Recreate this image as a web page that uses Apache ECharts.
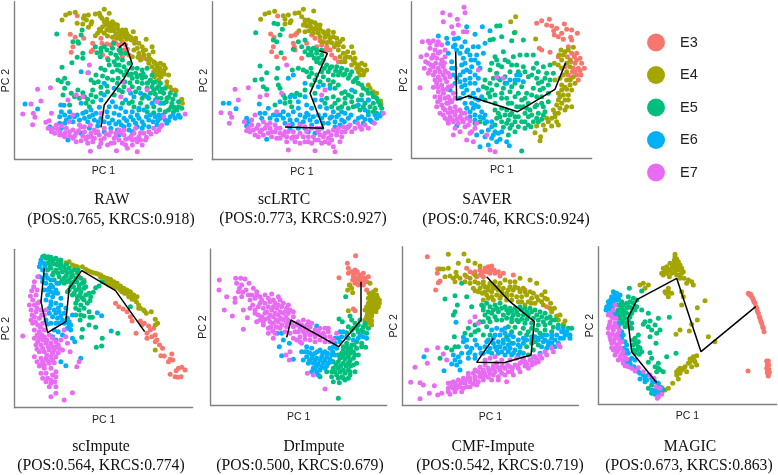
<!DOCTYPE html>
<html><head><meta charset="utf-8">
<style>html,body{margin:0;padding:0;background:#fff}#c{width:778px;height:475px}</style>
<script src="https://cdn.jsdelivr.net/npm/echarts@6/dist/echarts.min.js"></script>
</head><body><div id="c"></div>
<script>
const stages=['E3','E4','E5','E6','E7'];
const colors=['#F8766D','#A3A500','#00BF7D','#00B0F6','#E76BF3'];
const methods=['RAW','scLRTC','SAVER','scImpute','DrImpute','CMF-Impute','MAGIC'];
const scores=['(POS:0.765, KRCS:0.918)','(POS:0.773, KRCS:0.927)','(POS:0.746, KRCS:0.924)','(POS:0.564, KRCS:0.774)','(POS:0.500, KRCS:0.679)','(POS:0.542, KRCS:0.719)','(POS:0.673, KRCS:0.863)'];

const rawE3=[[228,47],[207,103],[222,112],[215,140],[210,157],[248,115],[275,130],[300,115],[303,130],[275,150],[270,155],[305,165],[318,132],[330,135],[345,130],[355,135],[340,125],[365,125],[375,135],[380,148],[395,118],[405,120],[368,150],[385,165],[418,170],[430,175],[525,270],[365,170],[320,175]];
const rawE4=[[182,60],[193,45],[205,40],[222,37],[228,70],[247,55],[250,47],[262,45],[256,60],[272,65],[270,72],[245,72],[262,82],[283,42],[295,40],[310,28],[298,48],[303,55],[325,40],[310,65],[320,68],[330,70],[342,72],[315,75],[325,80],[335,82],[350,85],[305,80],[318,90],[328,92],[340,92],[355,95],[365,90],[378,100],[345,103],[358,108],[372,110],[385,108],[398,95],[405,115],[392,120],[415,130],[360,118],[335,112],[320,108],[310,100],[290,100],[283,107],[378,118],[437,118],[455,140],[458,155],[425,140],[430,165],[415,160],[400,150],[440,178],[420,180],[395,170],[445,190],[460,185],[470,195],[480,190],[490,195],[455,200],[465,210],[475,215],[490,212],[470,225],[460,215],[482,230],[475,240],[505,225],[500,258],[510,262],[515,270],[528,272],[545,298],[547,310],[495,205],[335,65],[350,75],[362,100],[375,90],[390,112],[402,130],[410,145],[428,152],[445,165],[435,150],[412,172],[450,178],[465,190],[478,205],[483,220],[462,230],[470,205],[492,222],[500,245],[300,92],[295,88],[348,115],[368,100],[318,58]];
const rawE5=[[166,102],[215,125],[230,125],[240,105],[243,90],[232,130],[245,160],[212,188],[228,172],[245,175],[182,202],[300,145],[283,140],[288,158],[300,155],[298,170],[318,150],[330,160],[345,165],[360,160],[350,175],[365,180],[340,185],[325,195],[355,195],[370,200],[385,190],[395,205],[410,205],[425,210],[440,205],[455,225],[405,220],[420,225],[435,230],[450,240],[465,245],[480,250],[495,265],[510,280],[525,285],[535,305],[545,325],[530,330],[515,310],[500,295],[490,280],[470,265],[455,260],[440,265],[425,250],[410,245],[395,235],[385,225],[370,225],[350,210],[335,215],[320,235],[300,205],[305,228],[285,225],[270,240],[280,248],[292,245],[190,235],[180,245],[170,240],[200,250],[190,265],[210,280],[220,290],[235,295],[250,290],[270,285],[285,290],[300,280],[320,275],[340,285],[355,270],[370,260],[395,260],[415,265],[432,285],[450,280],[470,295],[490,310],[505,330],[520,335],[478,330],[460,320],[440,320],[420,310],[400,320],[385,310],[365,310],[255,310],[265,320],[275,305],[205,315],[185,285],[310,140],[335,145],[322,180],[312,210],[345,195],[360,215],[378,212],[392,222],[410,230],[428,222],[442,248],[458,248],[475,258],[485,268],[505,292],[518,298],[535,320],[522,322],[512,322],[498,305],[482,295],[465,282],[445,295],[425,295],[405,275],[388,248],[372,245],[352,235],[335,240],[318,258],[300,262],[275,270],[260,298],[245,278],[230,270],[495,335],[460,338],[440,335],[415,330],[395,305],[425,235],[440,250],[460,270],[480,275],[350,250],[365,275],[338,130],[358,148],[375,160],[355,150]];
const rawE6=[[70,312],[108,327],[178,315],[188,316],[240,215],[262,218],[180,335],[175,350],[190,345],[205,335],[220,350],[240,310],[255,335],[270,330],[285,340],[300,300],[310,285],[325,320],[340,340],[355,345],[375,300],[400,290],[420,280],[440,290],[430,330],[410,345],[390,350],[370,355],[355,365],[335,360],[320,350],[300,355],[280,360],[265,350],[250,355],[235,360],[215,365],[195,360],[175,370],[145,380],[180,385],[200,420],[240,400],[265,385],[290,378],[310,395],[330,385],[350,390],[370,380],[385,375],[405,370],[425,365],[445,360],[465,350],[480,355],[495,360],[510,350],[525,355],[500,370],[470,375],[445,380],[425,385],[395,395],[355,405],[450,345],[340,265],[310,250],[480,310],[465,300],[190,370],[205,352],[228,345],[245,340],[260,365],[275,345],[292,365],[310,365],[325,370],[345,372],[362,375],[378,362],[398,360],[415,355],[438,350],[458,365],[472,362],[488,345],[505,362],[518,345],[535,345],[540,352],[318,335],[295,322],[345,320],[375,335],[395,335],[415,325],[360,325],[335,305],[390,280],[455,310],[475,345],[410,380],[385,390],[430,375]];
const rawE7=[[108,268],[147,263],[118,303],[63,342],[88,312],[95,340],[100,352],[93,374],[265,195],[260,218],[150,340],[143,362],[133,367],[140,385],[150,395],[165,375],[175,395],[185,405],[195,385],[205,395],[215,390],[225,400],[240,380],[250,395],[260,410],[270,400],[280,415],[295,405],[310,415],[325,405],[340,415],[355,420],[370,405],[385,415],[400,400],[415,410],[430,400],[445,395],[460,385],[475,390],[485,375],[410,425],[425,435],[410,455],[380,445],[347,452],[268,454],[300,430],[320,435],[260,430],[240,422],[215,415],[190,410],[175,405],[150,390],[290,395],[330,430],[365,430],[395,435],[405,385],[370,390],[345,400],[280,390],[235,375],[215,345],[200,300],[225,285],[245,290],[365,245],[385,270],[440,270],[470,305],[555,342],[490,350],[360,290],[300,340],[205,365],[155,385],[168,388],[180,378],[192,398],[205,408],[220,408],[232,392],[245,408],[255,418],[272,412],[285,398],[300,420],[315,402],[330,395],[345,410],[360,398],[375,418],[392,408],[405,418],[420,398],[438,412],[452,402],[468,395],[480,380],[160,400],[225,425],[250,380],[275,425],[295,440],[340,428],[375,435],[395,420],[435,420],[420,420],[355,390],[310,385],[268,375]];
const rawPath=[[355,143],[373,128],[395,192],[370,235],[340,275],[310,315],[300,382]];

const lrtcE3=[[218,48],[197,102],[207,112],[205,140],[200,155],[215,170],[238,175],[258,108],[270,105],[275,100],[265,130],[268,140],[270,150],[305,130],[320,105],[330,115],[345,122],[355,125],[365,140],[375,150],[380,165],[390,175],[400,185],[350,135],[362,150],[290,175],[510,282],[335,140]];
const lrtcE4=[[167,58],[180,42],[192,38],[209,34],[235,47],[240,58],[250,45],[270,40],[282,38],[290,50],[295,28],[326,33],[255,68],[258,62],[240,72],[300,60],[310,60],[320,65],[330,68],[295,75],[305,78],[318,80],[332,85],[345,88],[300,95],[312,92],[325,100],[340,100],[355,95],[370,92],[385,97],[345,110],[360,112],[375,115],[350,125],[365,128],[380,128],[395,115],[413,118],[388,140],[400,150],[415,140],[440,140],[445,158],[415,160],[425,170],[435,172],[405,170],[450,190],[460,195],[470,190],[440,195],[455,205],[470,210],[485,210],[460,215],[475,225],[490,255],[495,265],[505,275],[515,280],[527,303],[528,312],[410,185],[420,185],[400,135],[282,92],[315,70],[335,75],[345,75],[358,100],[370,105],[385,110],[395,130],[405,125],[428,155],[420,175],[445,180],[462,205],[478,215],[300,70],[325,88],[338,92],[480,195],[465,225],[450,175],[372,125]];
const lrtcE5=[[152,98],[207,70],[218,72],[232,88],[225,105],[205,120],[215,125],[228,158],[165,198],[185,218],[218,205],[262,210],[300,120],[280,125],[265,148],[310,145],[325,145],[335,160],[300,155],[320,165],[340,175],[355,180],[365,195],[380,200],[395,200],[410,205],[425,210],[440,215],[455,235],[335,185],[305,215],[320,220],[335,225],[350,215],[370,215],[385,225],[400,225],[415,225],[430,235],[445,245],[460,250],[475,265],[490,280],[505,290],[520,305],[530,325],[510,325],[495,320],[480,310],[460,300],[440,290],[420,275],[400,255],[385,245],[370,240],[150,240],[170,238],[175,260],[185,268],[215,235],[220,255],[225,265],[240,295],[260,285],[285,285],[300,270],[330,280],[365,295],[385,290],[400,300],[420,310],[445,320],[465,330],[490,335],[515,340],[400,325],[380,320],[360,310],[240,310],[260,320],[210,315],[280,205],[295,210],[290,140],[350,165],[310,165],[328,175],[345,190],[318,205],[358,205],[375,205],[392,212],[405,215],[420,222],[435,225],[450,240],[470,255],[485,270],[500,280],[515,295],[525,315],[505,310],[490,300],[470,285],[450,275],[430,285],[410,280],[390,265],[375,255],[355,230],[330,240],[312,230],[320,255],[345,245],[275,280],[255,305],[235,285],[420,295],[440,305],[455,318],[475,320],[505,335],[430,325],[410,320],[390,310],[350,150],[335,150],[318,155]];
const lrtcE6=[[55,310],[72,310],[93,326],[163,312],[250,235],[265,225],[225,305],[255,290],[270,290],[190,325],[180,340],[195,355],[235,335],[250,345],[265,335],[285,345],[305,340],[320,325],[340,260],[355,255],[375,265],[350,300],[440,270],[470,300],[490,300],[420,340],[400,345],[380,350],[360,345],[125,355],[130,365],[165,340],[215,360],[235,355],[255,360],[275,360],[295,365],[315,360],[335,365],[350,355],[370,370],[390,365],[410,360],[430,355],[450,365],[470,350],[490,345],[510,345],[530,340],[500,365],[475,370],[255,385],[280,385],[310,395],[330,400],[185,418],[125,378],[280,305],[300,290],[430,380],[390,380],[300,250],[170,355],[205,345],[225,345],[240,370],[262,372],[285,372],[300,352],[325,350],[340,345],[355,370],[375,355],[395,350],[418,365],[438,345],[460,355],[480,358],[515,355],[525,348],[345,320],[330,300],[305,315],[365,325],[385,335],[410,335],[280,325],[300,385],[320,375],[350,385],[405,375],[460,315],[480,330],[495,360],[310,345],[215,345]];
const lrtcE7=[[90,268],[130,263],[100,300],[48,338],[75,340],[80,352],[73,370],[118,365],[245,195],[185,285],[165,290],[150,345],[140,360],[130,385],[125,392],[145,390],[160,375],[175,365],[195,370],[150,405],[165,395],[180,385],[195,385],[210,375],[225,385],[240,395],[210,395],[225,400],[245,410],[265,395],[285,400],[300,380],[320,385],[340,395],[355,410],[370,395],[385,390],[400,385],[415,380],[435,375],[450,385],[465,380],[480,375],[490,385],[508,370],[535,340],[175,405],[200,410],[190,400],[225,415],[250,450],[270,425],[285,430],[310,425],[330,452],[350,430],[370,415],[395,405],[420,395],[405,425],[390,455],[385,440],[360,425],[265,410],[310,410],[330,420],[345,385],[215,335],[230,280],[350,285],[360,270],[140,375],[155,385],[170,390],[185,375],[200,395],[215,385],[235,405],[250,395],[260,415],[275,410],[295,410],[305,395],[325,410],[335,385],[345,405],[360,400],[378,405],[395,395],[410,395],[425,385],[440,395],[458,370],[470,388],[215,415],[245,425],[300,425],[320,430],[340,420],[372,430],[380,420],[410,410],[160,410],[135,395],[285,375],[250,375]];
const lrtcPath=[[343,152],[367,160],[315,280],[355,385],[240,381]];

const saverE3=[[425,70],[440,62],[463,58],[455,75],[470,78],[508,72],[476,92],[490,110],[500,100],[478,105],[515,88],[530,90],[547,100],[527,112],[505,118],[433,145],[440,150],[465,157],[520,140],[545,160],[555,175],[540,190],[550,205],[568,205],[558,225],[545,225],[532,215],[528,235],[520,225],[550,240],[538,170],[530,160],[517,170],[510,200],[490,170],[535,205],[545,180],[560,190],[540,215],[555,212],[528,185],[485,85],[530,120]];
const saverE4=[[347,65],[362,50],[422,117],[360,97],[498,150],[510,155],[520,150],[535,142],[492,165],[478,190],[490,195],[500,205],[515,190],[525,180],[505,225],[495,235],[515,240],[525,255],[510,262],[500,270],[490,280],[505,285],[520,285],[530,270],[490,300],[500,310],[485,315],[515,320],[530,320],[475,330],[490,340],[480,350],[470,355],[460,365],[470,378],[490,375],[445,375],[425,378],[420,398],[437,410],[435,422],[455,355],[520,300],[480,240],[540,250],[505,165],[525,200],[515,215],[500,255],[515,268],[525,240],[495,290],[510,300],[495,325],[510,330],[485,365],[450,390],[535,230],[500,180],[480,340]];
const saverE5=[[315,77],[305,78],[285,120],[295,118],[320,110],[350,122],[385,120],[358,98],[325,155],[300,170],[290,190],[305,180],[320,200],[340,185],[355,170],[375,165],[395,165],[415,165],[425,190],[445,200],[465,195],[430,215],[415,205],[400,230],[385,200],[365,195],[345,215],[330,230],[305,220],[285,210],[270,240],[285,250],[265,260],[290,270],[305,255],[325,265],[345,275],[360,250],[380,260],[395,280],[415,265],[430,250],[450,235],[465,240],[445,265],[425,290],[440,310],[420,320],[400,310],[380,300],[360,290],[340,310],[320,295],[300,310],[285,290],[270,300],[310,340],[330,345],[350,340],[370,350],[390,340],[410,345],[430,340],[450,335],[415,365],[400,375],[380,365],[360,365],[340,360],[320,365],[305,355],[345,385],[360,395],[340,405],[390,385],[408,380],[380,453],[430,365],[270,370],[255,365],[240,370],[440,290],[460,280],[395,325],[375,320],[445,345],[300,375],[325,382],[310,195],[330,180],[350,195],[370,215],[390,215],[410,225],[425,235],[440,245],[455,220],[475,220],[460,255],[435,270],[410,285],[390,295],[370,280],[350,260],[330,250],[315,240],[295,235],[275,265],[280,280],[300,285],[320,280],[335,295],[350,310],[365,320],[385,320],[405,330],[425,315],[445,320],[460,305],[320,325],[335,330],[300,330],[315,350],[335,370],[350,375],[370,380],[390,365],[400,350],[425,355],[440,358],[360,350],[345,345]];
const saverE6=[[130,108],[155,115],[158,130],[178,117],[210,125],[215,80],[240,103],[262,80],[285,92],[218,150],[235,140],[270,130],[160,160],[170,185],[195,160],[205,175],[225,165],[240,180],[200,195],[215,210],[230,200],[195,225],[210,240],[225,235],[240,250],[200,260],[215,270],[235,280],[250,270],[195,295],[210,310],[230,310],[250,300],[225,335],[240,345],[260,335],[265,355],[185,378],[245,405],[260,395],[280,390],[300,395],[290,415],[305,425],[335,425],[343,437],[315,418],[280,435],[255,440],[370,240],[375,225],[385,245],[345,240],[310,235],[255,205],[250,235],[180,250],[175,225],[165,270],[290,365],[175,140],[185,150],[200,140],[215,155],[228,180],[245,165],[210,190],[225,215],[240,225],[205,215],[225,250],[210,255],[195,245],[205,280],[225,290],[240,295],[260,290],[215,325],[235,325],[250,320],[270,345],[255,350],[240,360],[275,365],[290,380],[310,400],[270,410],[295,405],[320,395],[180,205],[185,235],[170,205],[180,135],[190,115],[250,140],[265,160],[250,190],[365,225],[360,240],[335,250],[240,315],[225,350]];
const saverE7=[[143,38],[207,22],[210,38],[165,45],[187,58],[145,65],[190,75],[170,80],[175,100],[205,95],[215,95],[82,125],[100,123],[115,122],[130,125],[140,135],[105,145],[120,150],[135,155],[150,150],[78,170],[95,165],[110,175],[125,175],[140,180],[88,205],[100,190],[115,200],[130,205],[145,200],[100,220],[115,225],[130,230],[145,225],[160,220],[75,263],[125,250],[140,255],[155,245],[130,275],[145,280],[160,290],[175,280],[125,320],[140,315],[155,310],[170,305],[135,340],[150,330],[165,325],[180,320],[195,330],[150,355],[165,350],[180,345],[195,350],[210,340],[160,370],[175,365],[190,370],[205,365],[220,375],[175,405],[195,395],[215,420],[235,425],[225,400],[240,385],[285,450],[300,455],[275,405],[305,230],[325,235],[250,210],[165,230],[135,290],[160,260],[120,290],[105,130],[125,135],[115,165],[130,160],[92,185],[108,195],[122,190],[137,192],[150,170],[148,188],[105,210],[120,215],[135,215],[150,212],[120,240],[135,240],[150,235],[115,262],[128,262],[143,268],[155,268],[170,258],[135,300],[150,295],[165,300],[180,295],[128,305],[145,325],[160,338],[172,335],[185,332],[200,340],[158,360],[170,358],[185,358],[200,358],[215,355],[225,362],[210,380],[230,395],[245,370],[180,385],[145,345],[160,310]];
const saverPath=[[182,155],[185,300],[220,288],[368,335],[480,268],[512,188]];

const scimE3=[[235,110],[250,120],[345,190],[355,200],[368,207],[380,215],[390,230],[395,243],[420,243],[432,250],[445,258],[407,280],[440,280],[450,270],[460,265],[440,295],[455,290],[465,285],[470,300],[478,315],[465,305],[487,325],[482,347],[492,348],[515,342],[510,358],[518,360],[505,365],[535,385],[545,382],[555,390],[528,392],[510,403],[525,410],[533,412],[543,410],[425,255]];
const scimE4=[[178,70],[205,65],[215,75],[230,80],[245,80],[255,88],[270,95],[285,100],[300,105],[310,112],[320,115],[330,118],[340,125],[350,130],[360,138],[370,145],[380,150],[390,155],[400,165],[410,170],[315,128],[325,135],[335,138],[345,142],[360,150],[372,160],[385,170],[395,178],[408,185],[415,195],[430,210],[438,220],[453,215],[465,238],[472,250],[465,255],[465,330],[415,205],[195,68],[222,78],[262,92],[278,98],[292,102],[305,110],[318,122],[332,128],[345,132],[355,145],[365,155],[378,160],[390,170],[402,178],[420,205],[432,212],[300,112],[375,150],[395,165]];
const scimE5=[[125,50],[135,55],[150,52],[165,55],[180,60],[140,70],[155,68],[170,75],[190,80],[205,85],[220,90],[150,85],[165,90],[185,95],[200,100],[215,105],[230,100],[240,115],[175,110],[190,115],[205,120],[220,125],[235,135],[250,125],[190,130],[175,130],[210,140],[225,150],[240,155],[250,145],[215,165],[230,170],[245,175],[255,165],[225,190],[240,195],[260,190],[235,210],[250,205],[225,225],[238,240],[265,160],[278,157],[268,182],[285,143],[295,138],[305,125],[250,228],[268,232],[245,268],[265,255],[285,262],[243,292],[305,295],[287,322],[303,318],[352,280],[140,90],[155,105],[160,120],[200,155],[225,205],[275,232],[390,200],[130,48],[142,50],[158,58],[172,62],[147,60],[162,72],[180,72],[198,72],[148,78],[178,85],[195,90],[212,95],[232,90],[158,98],[172,100],[195,108],[210,112],[225,115],[183,122],[198,125],[212,130],[228,125],[245,130],[218,140],[235,145],[255,140],[205,150],[220,160],[238,165],[250,180],[230,180],[270,170],[240,225],[265,215]];
const scimE6=[[120,60],[128,70],[115,80],[125,90],[135,105],[150,120],[135,130],[145,145],[155,140],[165,150],[140,165],[155,170],[170,160],[150,185],[165,190],[180,195],[145,205],[160,210],[175,215],[190,220],[155,230],[170,235],[185,240],[200,235],[215,225],[205,260],[190,250],[150,250],[165,250],[155,290],[185,285],[215,295],[222,305],[180,365],[195,377],[240,355],[290,218],[303,227],[332,273],[168,130],[115,110],[180,175],[210,255],[135,240],[118,70],[132,80],[140,115],[125,115],[150,135],[140,150],[130,150],[160,160],[135,180],[150,195],[172,205],[195,205],[145,220],[165,220],[180,228],[200,248],[175,250],[140,252],[160,270],[172,275],[205,245],[210,270],[150,155],[125,125],[200,265],[165,300]];
const scimE7=[[110,110],[100,125],[92,152],[105,165],[95,180],[85,195],[100,195],[115,185],[90,210],[105,215],[120,210],[100,230],[115,235],[130,225],[95,250],[110,255],[125,250],[65,288],[100,270],[115,275],[130,270],[100,295],[115,295],[130,290],[145,285],[105,315],[120,315],[135,310],[150,310],[165,305],[180,300],[100,350],[115,335],[130,335],[145,330],[160,330],[175,325],[120,355],[135,355],[150,350],[165,350],[115,378],[130,375],[145,370],[160,368],[120,400],[125,415],[135,425],[150,430],[162,425],[165,395],[155,405],[150,470],[165,460],[190,480],[215,458],[228,380],[235,365],[208,335],[200,310],[190,270],[165,440],[120,375],[98,140],[108,150],[88,168],[110,190],[93,225],[108,205],[122,225],[135,210],[90,240],[103,245],[118,262],[108,285],[122,285],[138,300],[110,305],[125,300],[155,295],[172,315],[142,320],[155,320],[125,325],[108,328],[138,345],[155,340],[172,338],[108,365],[125,365],[140,362],[155,360],[130,385],[150,385],[135,400],[165,410],[140,415],[150,420],[145,440],[185,330],[195,290],[165,320]];
const scimPath=[[130,85],[120,185],[140,278],[195,245],[205,145],[243,92],[345,152],[433,275]];

const drE3=[[467,47],[442,70],[445,85],[445,100],[417,113],[465,90],[460,108],[470,100],[480,105],[490,100],[470,115],[480,120],[495,115],[500,125],[450,135],[465,130],[475,135],[490,135],[505,110],[460,207],[465,212],[500,150],[455,95],[462,100],[472,95],[485,112],[458,120],[468,125],[482,128],[492,125],[462,115]];
const drE4=[[443,150],[455,145],[458,158],[448,135],[510,130],[507,160],[520,155],[530,165],[515,170],[505,175],[525,178],[538,180],[510,185],[520,190],[530,195],[500,200],[510,200],[520,205],[530,205],[505,215],[515,220],[500,230],[510,235],[495,240],[505,248],[515,255],[495,210],[445,212],[527,150],[512,165],[522,168],[532,172],[518,178],[528,185],[538,190],[505,190],[515,195],[525,200],[535,200],[508,208],[518,212],[528,215],[502,222],[515,228],[505,240],[515,242],[498,255]];
const drE5=[[437,170],[417,237],[427,245],[450,228],[455,240],[445,260],[460,265],[475,255],[490,260],[505,265],[490,275],[475,275],[460,285],[445,295],[485,310],[497,322],[500,280],[440,310],[455,315],[470,305],[430,330],[445,330],[460,335],[470,325],[415,345],[430,350],[445,350],[460,355],[400,365],[415,365],[430,370],[445,370],[400,385],[415,385],[430,390],[445,390],[465,395],[410,405],[425,410],[435,420],[400,425],[418,428],[360,410],[380,395],[415,475],[470,370],[450,405],[395,410],[440,278],[455,270],[470,265],[485,270],[495,250],[480,240],[465,250],[430,320],[440,320],[452,325],[462,315],[425,340],[438,340],[452,340],[465,345],[420,355],[435,358],[450,362],[408,375],[422,378],[438,378],[452,378],[405,395],[420,395],[435,400],[450,395],[415,415],[430,415],[460,375],[475,345],[485,320],[395,395],[445,415],[395,365]];
const drE6=[[238,320],[245,347],[280,358],[232,280],[245,280],[268,310],[305,335],[320,320],[335,325],[350,258],[330,340],[345,340],[360,330],[375,335],[390,325],[405,310],[420,275],[425,290],[320,350],[335,355],[350,355],[365,350],[380,350],[395,345],[340,370],[355,372],[370,368],[385,370],[345,385],[360,390],[375,385],[335,395],[350,395],[310,360],[405,295],[480,285],[490,290],[460,300],[250,300],[322,335],[338,345],[352,335],[368,340],[382,340],[398,335],[410,325],[420,305],[328,362],[345,362],[360,360],[375,360],[390,358],[405,345],[350,378],[365,380],[380,378],[392,365],[355,405],[340,385],[325,370],[315,335],[400,320],[415,295],[430,275],[475,295],[500,295],[440,290]];
const drE7=[[58,120],[57,150],[107,115],[122,115],[135,117],[110,130],[125,135],[147,130],[115,155],[128,157],[80,170],[105,175],[125,170],[145,165],[160,145],[170,155],[105,187],[150,180],[165,175],[180,170],[195,165],[215,162],[73,210],[97,228],[130,210],[150,205],[165,210],[180,190],[195,190],[210,185],[225,190],[240,180],[142,233],[130,268],[165,220],[185,230],[200,215],[215,210],[230,205],[245,200],[260,205],[170,245],[190,245],[205,235],[220,230],[235,225],[250,220],[265,220],[280,230],[190,255],[205,265],[220,250],[235,245],[250,240],[265,240],[205,280],[220,295],[218,272],[240,265],[260,260],[280,260],[295,245],[310,240],[325,245],[285,275],[300,265],[315,265],[330,260],[345,270],[360,265],[375,265],[385,275],[300,290],[315,285],[330,285],[345,290],[360,285],[375,290],[390,290],[400,300],[270,335],[258,345],[268,360],[305,310],[322,400],[375,447],[340,405],[410,280],[118,145],[138,150],[155,165],[170,165],[185,180],[205,175],[220,180],[235,170],[158,195],[175,200],[190,205],[205,200],[220,200],[235,195],[250,190],[265,195],[175,225],[195,220],[210,225],[225,220],[240,215],[255,215],[270,210],[280,215],[180,240],[195,238],[210,245],[228,240],[242,235],[258,232],[212,260],[228,262],[245,255],[260,250],[275,250],[290,255],[305,255],[320,255],[335,250],[295,275],[310,275],[325,275],[340,280],[355,275],[370,280],[385,265],[315,298],[330,300],[345,305],[360,300],[375,305],[390,305],[230,260],[280,295],[290,300],[300,305],[225,280],[255,275],[270,280]];
const drPath=[[260,292],[273,240],[416,320],[483,240],[483,125]];

const cmfE3=[[97,50],[128,87],[127,100],[135,123],[122,150],[130,128],[215,85],[225,95],[215,110],[255,90],[265,95],[280,80],[290,78],[297,90],[310,95],[325,100],[275,95],[255,105],[245,110],[285,100],[265,110],[355,105],[390,150],[455,200],[235,100],[270,85],[285,88],[300,100],[315,108],[260,100],[240,95]];
const cmfE4=[[135,87],[145,87],[160,43],[207,42],[160,85],[190,70],[220,62],[240,70],[255,78],[150,110],[165,108],[183,97],[175,115],[180,125],[195,115],[210,125],[225,115],[240,125],[235,145],[250,130],[265,125],[255,145],[240,152],[270,140],[285,130],[300,125],[315,130],[330,120],[345,125],[360,125],[375,115],[405,120],[425,130],[280,150],[295,145],[310,150],[325,145],[340,150],[355,150],[370,145],[385,145],[262,160],[275,165],[290,170],[305,165],[320,165],[335,170],[350,165],[365,170],[380,170],[395,165],[410,175],[425,170],[440,165],[450,155],[457,178],[440,185],[420,190],[400,185],[380,185],[265,180],[467,190],[478,205],[470,215],[485,228],[495,225],[510,243],[490,240],[505,253],[445,195],[250,155],[270,155],[290,155],[305,145],[320,155],[335,160],[345,140],[360,140],[375,155],[390,155],[405,155],[415,160],[430,180],[450,175],[465,205],[408,190],[390,195],[370,185],[350,180],[335,180],[315,175],[295,180],[280,175],[265,135],[280,140],[295,135],[310,140],[225,130],[210,105],[185,108],[240,105]];
const cmfE5=[[150,177],[180,167],[215,170],[187,195],[180,215],[175,225],[230,200],[200,130],[260,195],[275,190],[265,210],[285,200],[300,195],[315,190],[330,200],[345,205],[360,205],[375,200],[390,205],[405,205],[420,210],[435,215],[450,220],[465,230],[480,240],[270,225],[290,220],[310,215],[325,225],[340,220],[355,225],[370,225],[385,225],[400,225],[415,235],[430,240],[445,245],[465,250],[265,245],[285,245],[305,240],[350,245],[370,245],[390,250],[240,255],[220,265],[210,280],[228,285],[178,290],[180,320],[170,330],[190,320],[250,270],[265,285],[285,285],[335,290],[350,275],[375,280],[400,275],[425,270],[450,270],[470,275],[520,265],[530,265],[525,285],[390,300],[410,300],[430,315],[415,330],[395,320],[350,310],[155,323],[135,355],[490,255],[400,345],[265,200],[280,215],[295,210],[305,205],[320,205],[335,210],[350,212],[365,215],[380,210],[395,215],[410,215],[425,225],[440,230],[455,235],[470,240],[300,230],[320,240],[335,235],[350,235],[365,240],[380,238],[395,238],[410,250],[430,255],[450,255],[475,262],[280,235],[275,260],[255,245],[240,275],[340,260],[360,262],[385,265],[410,265],[435,280],[395,285],[420,305],[445,285],[505,260],[430,295],[410,310]];
const cmfE6=[[183,247],[205,292],[215,300],[200,340],[175,345],[190,350],[215,320],[230,325],[240,300],[258,340],[270,320],[290,270],[305,265],[320,270],[330,265],[280,300],[295,295],[310,305],[325,300],[340,300],[355,290],[370,300],[385,295],[300,320],[315,320],[330,325],[345,325],[360,330],[375,320],[290,340],[310,340],[330,345],[350,345],[370,345],[385,340],[420,290],[440,290],[455,285],[470,295],[485,285],[500,275],[515,275],[525,295],[450,300],[470,310],[490,310],[505,295],[435,340],[87,350],[147,392],[170,372],[185,375],[195,390],[220,355],[240,355],[240,345],[490,265],[455,325],[205,305],[225,335],[245,315],[265,340],[280,335],[275,305],[300,285],[315,285],[330,280],[345,285],[295,310],[310,320],[325,310],[340,315],[355,310],[370,315],[385,310],[305,330],[320,335],[340,335],[355,340],[375,335],[395,300],[410,290],[430,300],[445,305],[460,305],[480,300],[495,295],[510,285],[520,285],[470,285],[285,325],[255,325],[440,320],[460,315],[480,320],[220,340],[195,365],[180,360],[505,270]];
const cmfE7=[[95,330],[128,323],[145,342],[155,360],[97,370],[60,382],[47,427],[75,428],[85,435],[118,437],[103,460],[75,476],[128,465],[140,460],[165,463],[160,430],[175,425],[190,420],[205,415],[220,410],[235,400],[250,395],[265,390],[280,385],[295,378],[175,445],[195,440],[210,430],[225,425],[240,420],[255,410],[270,405],[285,400],[300,395],[315,390],[330,385],[345,380],[360,375],[375,370],[390,365],[405,360],[420,350],[435,345],[450,335],[470,325],[490,315],[200,455],[225,440],[245,435],[265,420],[310,410],[330,405],[350,395],[370,385],[390,378],[410,375],[430,365],[160,445],[180,455],[310,420],[335,425],[285,355],[300,350],[320,360],[240,230],[225,245],[250,250],[270,360],[165,430],[172,440],[185,435],[198,428],[212,420],[225,415],[240,410],[255,400],[268,398],[282,392],[295,388],[308,382],[322,378],[338,375],[352,385],[368,378],[380,365],[395,372],[412,365],[425,358],[440,355],[455,345],[475,335],[495,320],[160,455],[185,445],[205,445],[215,440],[235,432],[250,425],[265,410],[280,412],[295,405],[290,420],[320,400],[340,395],[355,405],[375,395],[400,385],[420,370],[180,430],[200,425],[220,400],[240,390],[255,382],[270,375],[305,368],[345,360],[365,355],[385,355],[415,350]];
const cmfPath=[[295,295],[245,367],[327,368],[408,345],[418,245],[345,185],[275,110]];

const magE3=[[505,175],[510,180],[515,185],[520,195],[525,205],[530,220],[535,235],[540,250],[545,265],[550,280],[552,290],[512,178],[518,190],[528,215],[538,245],[548,275],[560,378],[565,378],[562,390],[566,390],[560,400],[566,402],[562,412],[568,412],[565,423],[504,408],[522,200],[532,228],[542,258],[507,178],[563,385],[563,408],[564,418]];
const magE4=[[285,58],[285,65],[290,72],[295,80],[300,90],[305,100],[310,110],[270,85],[280,85],[290,90],[250,100],[260,95],[275,100],[285,105],[295,105],[245,115],[260,115],[275,115],[290,120],[300,120],[312,130],[325,135],[340,150],[320,145],[180,150],[190,145],[205,150],[195,160],[255,170],[265,170],[275,175],[265,185],[305,170],[310,185],[305,210],[375,197],[352,218],[352,255],[335,268],[328,288],[300,285],[288,298],[405,320],[385,305],[340,365],[330,372],[345,380],[325,385],[335,395],[315,395],[305,405],[320,410],[295,405],[290,420],[295,432],[300,415],[350,390],[278,445],[265,460],[255,465],[240,455],[350,362],[283,75],[292,82],[278,92],[288,98],[298,95],[268,105],[255,108],[250,120],[268,125],[285,112],[305,115],[265,160],[258,175],[335,140],[300,130],[342,375],[310,400],[330,380],[300,400],[290,410]];
const magE5=[[148,160],[160,190],[185,168],[150,200],[140,205],[125,200],[110,210],[125,220],[140,220],[155,220],[170,215],[185,225],[110,230],[125,235],[140,235],[155,235],[120,250],[135,250],[150,245],[125,265],[140,265],[155,265],[165,310],[175,320],[160,330],[175,335],[185,350],[170,345],[205,235],[235,250],[190,268],[210,258],[225,270],[205,275],[240,285],[230,295],[210,305],[228,325],[210,353],[260,365],[288,355],[215,370],[235,385],[205,382],[225,395],[240,405],[250,410],[268,247],[215,285],[155,280],[205,460],[225,465],[250,465],[215,450],[195,260],[115,195],[120,210],[130,210],[115,225],[130,228],[148,215],[160,205],[165,225],[118,240],[130,240],[145,255],[128,258],[115,250],[135,275],[148,275],[160,315],[168,325],[160,345],[180,340],[165,355],[178,358],[175,300],[170,195],[215,475],[235,400],[230,410],[145,185]];
const magE6=[[100,170],[110,175],[120,180],[95,185],[105,190],[85,200],[95,205],[80,215],[90,220],[85,225],[105,240],[115,275],[125,290],[135,320],[130,340],[145,355],[155,370],[140,380],[155,395],[170,405],[165,375],[180,415],[180,432],[195,430],[205,420],[215,430],[225,440],[235,445],[245,458],[235,470],[225,478],[240,475],[195,440],[130,300],[105,180],[92,195],[100,200],[110,195],[88,210],[98,215],[78,225],[88,232],[115,190],[120,300],[118,310],[140,330],[140,345],[135,355],[148,375],[150,385],[162,395],[175,410],[190,420],[200,435],[218,440],[230,455],[225,470],[215,465],[245,470],[100,230],[115,265],[125,310]];
const magE7=[[90,235],[105,210],[100,250],[90,260],[105,265],[85,280],[100,285],[115,295],[90,305],[105,310],[95,325],[110,330],[125,320],[100,345],[115,345],[130,350],[105,360],[120,365],[135,365],[115,375],[130,385],[145,395],[175,398],[190,410],[210,420],[222,430],[228,455],[240,460],[235,485],[245,478],[232,490],[115,310],[100,225],[85,240],[95,245],[108,250],[88,270],[98,275],[110,275],[85,295],[98,298],[108,300],[92,315],[102,320],[118,325],[95,338],[108,338],[122,338],[110,352],[125,358],[140,372],[128,375],[135,392],[155,400],[165,408],[118,285]];
const magPath=[[230,443],[155,350],[143,250],[172,193],[290,130],[363,350],[527,215]];

const panelPoints=[
 [rawE3,rawE4,rawE5,rawE6,rawE7],[lrtcE3,lrtcE4,lrtcE5,lrtcE6,lrtcE7],[saverE3,saverE4,saverE5,saverE6,saverE7],
 [scimE3,scimE4,scimE5,scimE6,scimE7],[drE3,drE4,drE5,drE6,drE7],[cmfE3,cmfE4,cmfE5,cmfE6,cmfE7],[magE3,magE4,magE5,magE6,magE7]];
const panelPaths=[rawPath,lrtcPath,saverPath,scimPath,drPath,cmfPath,magPath];

// layout: grid box in page pixels, axis extent in the data's own units
const frames=[
 {o:[0,0],x:[38,577],y:[5,478]},{o:[205,0],x:[22,560],y:[5,479]},{o:[395,0],x:[50,590],y:[5,475]},
 {o:[0,240],x:[40,578],y:[28,503]},{o:[200,240],x:[32,560],y:[27,495]},{o:[395,240],x:[22,550],y:[20,495]},{o:[580,235],x:[55,590],y:[35,508]}];
const captions=[[112,200,111,220],[284,200,303,219],[487,200,506,220],[101,447,101,466],[314,447,300,466],[493,447,500,466],[690,447,689,466]];

const grid=[],xAxis=[],yAxis=[],series=[],graphic=[];
frames.forEach((f,i)=>{
 grid.push({left:f.o[0]+f.x[0]/3,top:f.o[1]+f.y[0]/3,width:(f.x[1]-f.x[0])/3,height:(f.y[1]-f.y[0])/3});
 const line={show:true,onZero:false,lineStyle:{color:'#808080',width:1.4}};
 const nameStyle={fontFamily:'Liberation Sans',fontSize:10.5,color:'#222',verticalAlign:'middle'};
 xAxis.push({gridIndex:i,type:'value',min:f.x[0],max:f.x[1],position:'bottom',name:'PC 1',nameLocation:'middle',nameGap:12,nameTextStyle:nameStyle,axisLine:line,axisTick:{show:false},axisLabel:{show:false},splitLine:{show:false}});
 yAxis.push({gridIndex:i,type:'value',inverse:true,min:f.y[0],max:f.y[1],position:'left',name:'PC 2',nameLocation:'middle',nameGap:8,nameTextStyle:nameStyle,axisLine:line,axisTick:{show:false},axisLabel:{show:false},splitLine:{show:false}});
 stages.forEach((s,k)=>series.push({name:s,type:'scatter',xAxisIndex:i,yAxisIndex:i,data:panelPoints[i][k],symbolSize:5,itemStyle:{color:colors[k],opacity:1},silent:true,animation:false}));
 series.push({type:'line',xAxisIndex:i,yAxisIndex:i,data:panelPaths[i],symbol:'none',z:5,lineStyle:{color:'#000',width:1.5},silent:true,animation:false});
 const c=captions[i];
 graphic.push({type:'text',x:c[0],y:c[1],style:{text:methods[i],font:'15.7px "Liberation Serif"',fill:'#111',textAlign:'center',textVerticalAlign:'middle'}});
 graphic.push({type:'text',x:c[2],y:c[3],style:{text:scores[i],font:'15.7px "Liberation Serif"',fill:'#111',textAlign:'center',textVerticalAlign:'middle'}});
});
const chart=echarts.init(document.getElementById('c'),null,{renderer:'canvas'});
chart.setOption({animation:false,backgroundColor:'#fff',grid,xAxis,yAxis,series,graphic,
 legend:{data:stages,orient:'vertical',left:642,top:28.5,icon:'circle',itemWidth:18,itemHeight:18,itemGap:14.5,selectedMode:false,textStyle:{fontFamily:'Liberation Sans',fontSize:14.5,color:'#222',padding:[0,0,0,10]}}});
</script></body></html>
